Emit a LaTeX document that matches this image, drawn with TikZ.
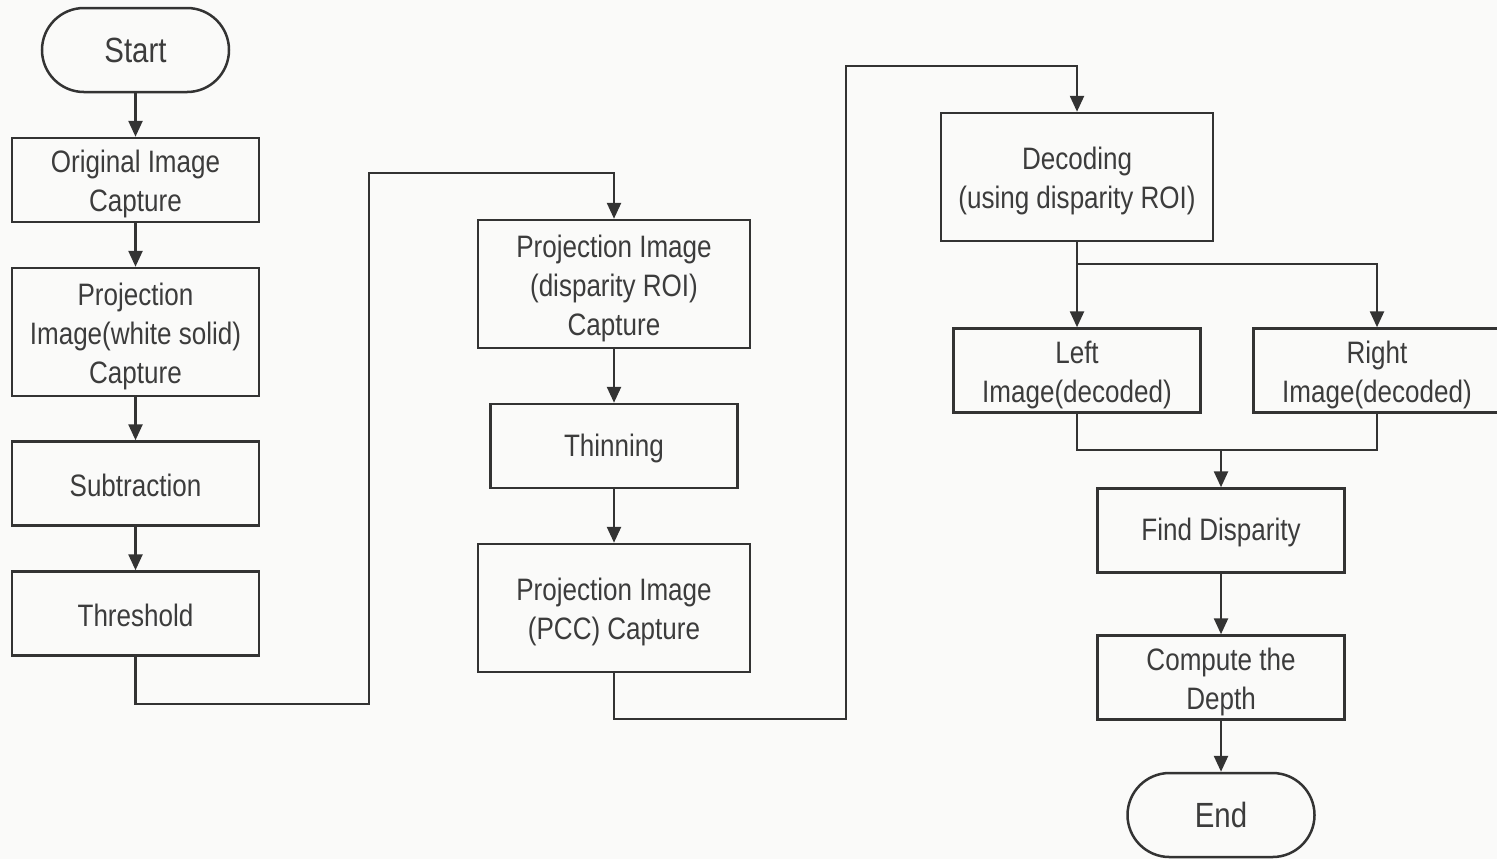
\documentclass[tikz,border=0pt]{standalone}
\usepackage{fontspec}
\setmainfont{Liberation Sans}[FakeStretch=0.84]
\usetikzlibrary{arrows.meta}
\definecolor{ink}{RGB}{51,51,51}
\definecolor{txt}{RGB}{60,60,60}
\definecolor{paper}{RGB}{250,250,249}
% strut that raises the first line of a multi-line label
\newcommand\lift{\rule{0pt}{15.3pt}}
\begin{document}
\begin{tikzpicture}[x=0.5pt,y=-0.5pt,
  every node/.style={text=txt,inner sep=0pt,align=center,
    font=\fontsize{15.5}{19.5}\selectfont},
  stepbox/.style={draw=ink,line width=1.25pt,minimum width=123.5pt,minimum height=42pt,
    execute at begin node={\rule{0pt}{13.3pt}}},
  tallbox/.style={stepbox,minimum height=64pt},
  widebox/.style={stepbox,minimum width=136pt,minimum height=64pt},
  terminal/.style={draw=ink,line width=1.25pt,rounded corners=21pt,
    minimum width=93.5pt,minimum height=42pt,font=\fontsize{17.5}{21}\selectfont},
  flow/.style={draw=ink,line width=1.25pt,-{Triangle[width=7pt,length=8pt]}},
  link/.style={draw=ink,line width=1.25pt}]
\fill[paper] (0,0) rectangle (1497,859);
\useasboundingbox (0,0) rectangle (1497,859);

% first column
\node[terminal] (start) at (135.5,50) {Start};
\node[stepbox] (orig) at (135.5,180) {\lift Original Image\\Capture};
\node[tallbox] (white) at (135.5,332) {\lift Projection\\Image(white solid)\\Capture};
\node[stepbox] (sub) at (135.5,483.5) {Subtraction};
\node[stepbox] (thr) at (135.5,613.5) {Threshold};

% second column
\node[widebox] (roi) at (614,284) {\lift Projection Image\\(disparity ROI)\\Capture};
\node[stepbox] (thin) at (614,446) {Thinning};
\node[widebox] (pcc) at (614,608) {\lift Projection Image\\(PCC) Capture};

% third column
\node[widebox] (dec) at (1077,177) {\lift Decoding\\(using disparity ROI)};
\node[stepbox] (left) at (1077,370.5) {\lift Left\\Image(decoded)};
\node[stepbox] (right) at (1377,370.5) {\lift Right\\Image(decoded)};
\node[stepbox] (disp) at (1221,530.5) {Find Disparity};
\node[stepbox] (depth) at (1221,677.5) {\lift Compute the\\Depth};
\node[terminal] (end) at (1221,815) {End};

% routing points
\coordinate (a1) at (369,704);
\coordinate (a2) at (369,173);
\coordinate (b1) at (846,719);
\coordinate (b2) at (846,66);
\coordinate (split) at (1077,264);
\coordinate (merge) at (1221,450);

\draw[flow] (start) -- (orig);
\draw[flow] (orig) -- (white);
\draw[flow] (white) -- (sub);
\draw[flow] (sub) -- (thr);
\draw[flow] (thr.south) |- (a1) -- (a2) -| (roi.north);
\draw[flow] (roi) -- (thin);
\draw[flow] (thin) -- (pcc);
\draw[flow] (pcc.south) |- (b1) -- (b2) -| (dec.north);
\draw[link] (dec.south) -- (split);
\draw[flow] (split) -- (left.north);
\draw[flow] (split) -| (right.north);
\draw[link] (left.south) |- (merge);
\draw[link] (right.south) |- (merge);
\draw[flow] (merge) -- (disp.north);
\draw[flow] (disp) -- (depth);
\draw[flow] (depth) -- (end);
\end{tikzpicture}
\end{document}
